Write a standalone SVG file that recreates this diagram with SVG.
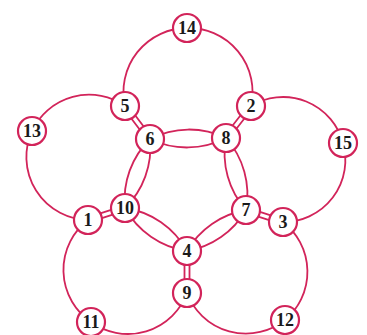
<svg xmlns="http://www.w3.org/2000/svg" width="367" height="335" viewBox="0 0 367 335">
<style>
.e{fill:none;stroke:#d2245a;stroke-width:1.8}
.n circle{fill:#fff;stroke:#d2245a;stroke-width:2.2}
.n text{font-family:"Liberation Serif","Times New Roman",serif;font-weight:bold;font-size:18px;fill:#1a1a1a;text-anchor:middle;dominant-baseline:central}
</style>
<rect width="367" height="335" fill="#fff"/>
<g id="connectors">
<path class="e" d="M125,106 A64,64 0 0 1 187,28"/>
<path class="e" d="M187,28 A64,64 0 0 1 251,106"/>
<path class="e" d="M125,106 A63,63 0 0 0 32,131"/>
<path class="e" d="M32,131 A63,63 0 0 0 88,220"/>
<path class="e" d="M251,106 A62,62 0 0 1 343,143"/>
<path class="e" d="M343,143 A62,62 0 0 1 283,222"/>
<path class="e" d="M88,220 A63,63 0 0 0 91,322"/>
<path class="e" d="M91,322 A63,63 0 0 0 187,293"/>
<path class="e" d="M283,222 A63,63 0 0 1 285,320"/>
<path class="e" d="M285,320 A63,63 0 0 1 187,293"/>
<path class="e" d="M150,139 A85,85 0 0 1 226,138 M150,139 A85,85 0 0 0 226,138"/>
<path class="e" d="M150,139 A85,85 0 0 1 125,208 M150,139 A85,85 0 0 0 125,208"/>
<path class="e" d="M226,138 A85,85 0 0 1 246,210 M226,138 A85,85 0 0 0 246,210"/>
<path class="e" d="M125,208 A85,85 0 0 1 187,251 M125,208 A85,85 0 0 0 187,251"/>
<path class="e" d="M246,210 A85,85 0 0 1 187,251 M246,210 A85,85 0 0 0 187,251"/>
<path class="e" d="M127,104.5 L152,137.5 M123,107.5 L148,140.5"/>
<path class="e" d="M253,107.5 L228,139.5 M249,104.5 L224,136.5"/>
<path class="e" d="M88.8,222.4 L125.8,210.4 M87.2,217.6 L124.2,205.6"/>
<path class="e" d="M245.2,212.4 L282.2,224.4 M246.8,207.6 L283.8,219.6"/>
<path class="e" d="M184.5,251 L184.5,293 M189.5,251 L189.5,293"/>
</g>
<g id="n14" class="n"><circle cx="187" cy="28" r="14"/><text x="187" y="28">14</text></g>
<g id="n5" class="n"><circle cx="125" cy="106" r="14"/><text x="125" y="106">5</text></g>
<g id="n2" class="n"><circle cx="251" cy="106" r="14"/><text x="251" y="106">2</text></g>
<g id="n13" class="n"><circle cx="32" cy="131" r="14"/><text x="32" y="131">13</text></g>
<g id="n15" class="n"><circle cx="343" cy="143" r="14"/><text x="343" y="143">15</text></g>
<g id="n6" class="n"><circle cx="150" cy="139" r="14"/><text x="150" y="139">6</text></g>
<g id="n8" class="n"><circle cx="226" cy="138" r="14"/><text x="226" y="138">8</text></g>
<g id="n10" class="n"><circle cx="125" cy="208" r="14"/><text x="125" y="208">10</text></g>
<g id="n7" class="n"><circle cx="246" cy="210" r="14"/><text x="246" y="210">7</text></g>
<g id="n1" class="n"><circle cx="88" cy="220" r="14"/><text x="88" y="220">1</text></g>
<g id="n3" class="n"><circle cx="283" cy="222" r="14"/><text x="283" y="222">3</text></g>
<g id="n4" class="n"><circle cx="187" cy="251" r="14"/><text x="187" y="251">4</text></g>
<g id="n9" class="n"><circle cx="187" cy="293" r="14"/><text x="187" y="293">9</text></g>
<g id="n11" class="n"><circle cx="91" cy="322" r="14"/><text x="91" y="322">11</text></g>
<g id="n12" class="n"><circle cx="285" cy="320" r="14"/><text x="285" y="320">12</text></g>
</svg>
